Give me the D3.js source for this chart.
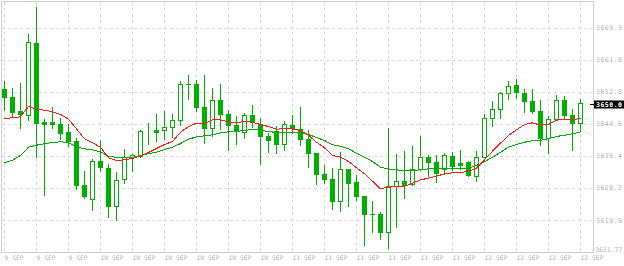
<!DOCTYPE html>
<html>
<head>
<meta charset="utf-8">
<script src="https://cdn.jsdelivr.net/npm/d3@7"></script>
<style>
  html, body { margin: 0; padding: 0; background: #ffffff; }
  svg { display: block; }
  .axis text { font-family: 'DejaVu Sans Mono', monospace; fill: #b2b2b2; }
  .axis path, .axis line { display: none; }
</style>
</head>
<body>
<svg id="chart"></svg>
<script>
// x axis labels, one every 4 bars
const xLabels = ['9 SEP', '9 SEP', '9 SEP', '10 SEP', '10 SEP', '10 SEP', '10 SEP', '10 SEP', '10 SEP',
  '11 SEP', '11 SEP', '11 SEP', '11 SEP', '11 SEP', '11 SEP', '12 SEP', '12 SEP', '12 SEP', '12 SEP'];

// price axis labels
const yTicks = [3669.3, 3661.0, 3652.8, 3644.6, 3636.4, 3628.2, 3619.9, 3611.77];
const lastPrice = 3650.0;

const opens = [3653.54, 3651.5, 3647.91, 3646.88, 3665.26, 3645.09, 3645.0, 3644.57, 3642.52, 3640.22,
  3628.94, 3625.43, 3635.09, 3633.30, 3623.48, 3630.40, 3636.12, 3636.30, 3642.75, 3643.04,
  3643.04, 3643.73, 3645.52, 3654.8, 3654.75, 3648.85, 3643.47, 3650.72, 3647.14, 3644.32,
  3642.45, 3646.80, 3644.65, 3641.50, 3642.78, 3639.37, 3644.24, 3643.29, 3640.65, 3637.14,
  3631.76, 3630.48, 3624.76, 3632.96, 3629.63, 3626.12, 3621.51, 3621.43, 3616.82, 3628.76,
  3629.89, 3629.12, 3632.96, 3636.12, 3634.76, 3633.12, 3636.37, 3634.58, 3634.76, 3631.17,
  3636.19, 3646.03, 3648.34, 3652.44, 3654.49, 3652.44, 3650.39, 3647.91, 3640.99, 3645.86,
  3650.72, 3646.88, 3644.75];

const highs = [3655.59, 3653.80, 3655.08, 3667.64, 3674.64, 3645.86, 3648.85, 3646.03, 3644.57, 3640.99,
  3632.53, 3635.60, 3640.47, 3634.32, 3632.27, 3638.09, 3636.89, 3643.04, 3644.83, 3647.14,
  3647.91, 3647.14, 3655.67, 3657.13, 3655.77, 3657.05, 3653.72, 3654.83, 3648.16, 3646.62,
  3647.32, 3649.44, 3646.19, 3642.27, 3643.98, 3645.34, 3646.88, 3648.93, 3642.96, 3637.20,
  3634.07, 3633.30, 3637.47, 3633.00, 3631.50, 3626.15, 3624.76, 3622.02, 3643.55, 3636.89,
  3637.65, 3639.01, 3641.58, 3636.55, 3636.63, 3637.06, 3637.47, 3637.83, 3635.01, 3637.65,
  3647.06, 3650.47, 3652.77, 3655.59, 3656.11, 3653.47, 3653.47, 3650.72, 3646.55, 3652.01,
  3651.75, 3648.42, 3650.98];

const lows = [3648.16, 3646.29, 3643.63, 3645.60, 3636.04, 3626.45, 3643.63, 3640.81, 3639.01, 3627.99,
  3625.69, 3622.61, 3632.53, 3620.82, 3619.97, 3629.53, 3632.61, 3636.04, 3639.45, 3640.29,
  3640.81, 3641.32, 3644.39, 3651.06, 3647.98, 3639.78, 3641.58, 3643.37, 3637.99, 3639.45,
  3641.06, 3643.88, 3634.40, 3637.47, 3637.22, 3637.99, 3642.19, 3639.27, 3633.63, 3629.27,
  3629.38, 3622.79, 3622.28, 3623.64, 3625.10, 3613.64, 3616.97, 3615.10, 3612.80, 3618.25,
  3625.69, 3628.94, 3632.78, 3631.32, 3629.79, 3631.76, 3632.86, 3632.96, 3631.32, 3630.04,
  3636.12, 3644.14, 3646.19, 3651.06, 3651.24, 3647.73, 3647.47, 3639.27, 3637.22, 3645.68,
  3646.19, 3637.99, 3642.78];

const closes = [3651.57, 3647.73, 3647.21, 3665.51, 3644.91, 3644.65, 3644.70, 3642.34, 3640.22, 3629.02,
  3626.20, 3635.01, 3633.63, 3623.64, 3630.15, 3636.12, 3636.63, 3642.70, 3642.80, 3642.60,
  3643.81, 3645.52, 3654.75, 3654.70, 3649.01, 3643.63, 3650.65, 3647.21, 3644.39, 3642.70,
  3646.80, 3645.16, 3641.58, 3640.40, 3639.53, 3644.50, 3643.55, 3640.81, 3637.22, 3631.84,
  3630.48, 3624.92, 3632.96, 3629.53, 3626.20, 3621.59, 3621.45, 3616.97, 3628.61, 3629.89,
  3628.94, 3632.96, 3636.04, 3634.91, 3632.09, 3636.55, 3633.73, 3634.14, 3631.58, 3636.04,
  3646.03, 3648.34, 3652.44, 3654.24, 3652.85, 3650.55, 3647.98, 3641.06, 3645.78, 3650.72,
  3646.80, 3644.91, 3650.00];

// fast moving average (red)
const maFast = [3646.11, 3646.29, 3646.55, 3649.19, 3648.49, 3648.24, 3647.83, 3647.14, 3645.93, 3643.47,
  3640.91, 3639.88, 3638.76, 3636.04, 3635.35, 3635.53, 3635.86, 3636.55, 3637.40, 3638.42,
  3639.45, 3640.22, 3642.60, 3644.06, 3644.91, 3644.83, 3645.78, 3645.78, 3645.27, 3644.95,
  3645.42, 3645.09, 3644.57, 3644.06, 3643.37, 3643.55, 3643.47, 3643.04, 3641.83, 3640.04,
  3638.60, 3636.63, 3636.19, 3635.09, 3633.48, 3631.94, 3630.04, 3628.10, 3628.51, 3628.68,
  3628.76, 3629.53, 3630.40, 3630.81, 3631.32, 3631.94, 3632.20, 3632.27, 3632.53, 3633.37,
  3635.53, 3637.73, 3639.78, 3641.75, 3643.22, 3644.57, 3645.01, 3644.39, 3644.57, 3645.68,
  3645.86, 3645.68, 3646.19];

// slow moving average (green)
const maSlow = [3634.76, 3635.42, 3636.63, 3638.76, 3639.27, 3639.63, 3639.96, 3640.14, 3639.96, 3638.76,
  3638.35, 3638.09, 3637.58, 3636.45, 3636.12, 3636.04, 3636.12, 3636.55, 3637.14, 3637.47,
  3638.17, 3638.76, 3639.70, 3640.81, 3641.42, 3641.68, 3641.93, 3642.45, 3642.70, 3642.78,
  3643.04, 3643.29, 3643.11, 3642.78, 3642.52, 3642.45, 3642.60, 3642.60, 3642.01, 3641.24,
  3640.47, 3639.37, 3639.01, 3638.35, 3637.22, 3636.19, 3635.09, 3633.63, 3633.12, 3632.96,
  3632.71, 3632.78, 3632.96, 3633.22, 3633.22, 3633.22, 3633.30, 3633.22, 3633.43, 3634.07,
  3635.01, 3636.19, 3637.47, 3638.76, 3639.45, 3640.04, 3640.40, 3640.55, 3640.91, 3641.50,
  3641.83, 3642.19, 3642.70];

const width = 624, height = 266;
const plotRight = 593, plotBottom = 252;
const candleColor = '#00b000';

const bars = closes.map((c, i) => ({ i: i, o: opens[i], h: highs[i], l: lows[i], c: c }));

const svg = d3.select('#chart')
    .attr('width', width)
    .attr('height', height);

const x = d3.scaleLinear()
    .domain([0, closes.length - 1])
    .range([4.5, 580.5]);

const y = d3.scaleLinear()
    .domain([3611.77, 3676.35])
    .range([plotBottom, 0]);

// snap to pixel rows so 1px lines stay sharp like the terminal
const py = v => Math.round(y(v));

// grid
const grid = svg.append('g')
    .attr('stroke', '#d9d9d9')
    .attr('stroke-dasharray', '3,3')
    .attr('shape-rendering', 'crispEdges');

grid.selectAll('.h-grid')
    .data(yTicks.slice(0, -1))
    .join('line')
        .attr('class', 'h-grid')
        .attr('x1', 2)
        .attr('x2', plotRight - 1)
        .attr('y1', d => py(d) + 0.5)
        .attr('y2', d => py(d) + 0.5);

grid.selectAll('.v-grid')
    .data(d3.range(0, closes.length, 4))
    .join('line')
        .attr('class', 'v-grid')
        .attr('x1', d => x(d))
        .attr('x2', d => x(d))
        .attr('y1', 2)
        .attr('y2', plotBottom);

// frame
svg.append('rect')
    .attr('x', 1.5)
    .attr('y', 1.5)
    .attr('width', plotRight - 1)
    .attr('height', plotBottom - 1)
    .attr('fill', 'none')
    .attr('stroke', '#cfcfcf')
    .attr('shape-rendering', 'crispEdges');

// candles
const candles = svg.append('g')
    .attr('shape-rendering', 'crispEdges');

candles.selectAll('.wick')
    .data(bars)
    .join('line')
        .attr('class', 'wick')
        .attr('x1', d => x(d.i))
        .attr('x2', d => x(d.i))
        .attr('y1', d => py(d.h))
        .attr('y2', d => py(d.l) + 1)
        .attr('stroke', candleColor);

candles.selectAll('.body-down')
    .data(bars.filter(d => d.c <= d.o))
    .join('rect')
        .attr('class', 'body-down')
        .attr('x', d => x(d.i) - 2.5)
        .attr('y', d => py(d.o))
        .attr('width', 5)
        .attr('height', d => Math.max(1, py(d.c) - py(d.o) + 1))
        .attr('fill', candleColor);

candles.selectAll('.body-up')
    .data(bars.filter(d => d.c > d.o))
    .join('rect')
        .attr('class', 'body-up')
        .attr('x', d => x(d.i) - 2)
        .attr('y', d => py(d.c) + 0.5)
        .attr('width', 4)
        .attr('height', d => Math.max(0, py(d.o) - py(d.c)))
        .attr('fill', '#ffffff')
        .attr('stroke', candleColor);

// moving averages
const maLine = d3.line()
    .x((d, i) => x(i))
    .y(d => y(d) + 0.5);

svg.append('path')
    .datum(maSlow)
    .attr('d', maLine)
    .attr('fill', 'none')
    .attr('stroke', '#00aa00')
    .attr('shape-rendering', 'crispEdges');

svg.append('path')
    .datum(maFast)
    .attr('d', maLine)
    .attr('fill', 'none')
    .attr('stroke', '#ff1a1a')
    .attr('shape-rendering', 'crispEdges');

// axes
const xAxis = d3.axisBottom(x)
    .tickValues(d3.range(0, closes.length, 4))
    .tickFormat((d, i) => xLabels[i])
    .tickSize(0)
    .tickPadding(4);

const xAxisG = svg.append('g')
    .attr('class', 'axis x-axis')
    .attr('transform', `translate(0,${plotBottom})`)
    .call(xAxis);

xAxisG.selectAll('text')
    .attr('text-anchor', 'start')
    .attr('dx', -0.5)
    .style('font-size', '6.2px')
    .style('letter-spacing', '0.1px');

const yAxis = d3.axisRight(y)
    .tickValues(yTicks)
    .tickFormat(d => d === 3611.77 ? '3611.77' : d.toFixed(1))
    .tickSize(0)
    .tickPadding(3);

const yAxisG = svg.append('g')
    .attr('class', 'axis y-axis')
    .attr('transform', `translate(${plotRight},0)`)
    .call(yAxis);

yAxisG.selectAll('text')
    .style('font-size', '6.5px')
    .style('letter-spacing', d => d === 3611.77 ? '0px' : '0.5px')
    .attr('x', d => d === 3611.77 ? 2 : 3)
    .attr('y', d => d === 3611.77 ? -3 : 0);

// current price marker
const priceG = svg.append('g')
    .attr('transform', `translate(0,${py(lastPrice) + 1.5})`);

priceG.append('line')
    .attr('x1', plotRight - 3)
    .attr('x2', plotRight + 1)
    .attr('stroke', '#000000')
    .attr('shape-rendering', 'crispEdges');

priceG.append('rect')
    .attr('x', plotRight + 1)
    .attr('y', -4)
    .attr('width', width - plotRight)
    .attr('height', 8)
    .attr('fill', '#000000');

priceG.append('text')
    .attr('x', plotRight + 3)
    .attr('dy', '0.35em')
    .attr('fill', '#ffffff')
    .style('font-family', "'DejaVu Sans Mono', monospace")
    .style('font-size', '6.5px')
    .style('font-weight', 'bold')
    .style('letter-spacing', '0.5px')
    .text(lastPrice.toFixed(1));
</script>
</body>
</html>
